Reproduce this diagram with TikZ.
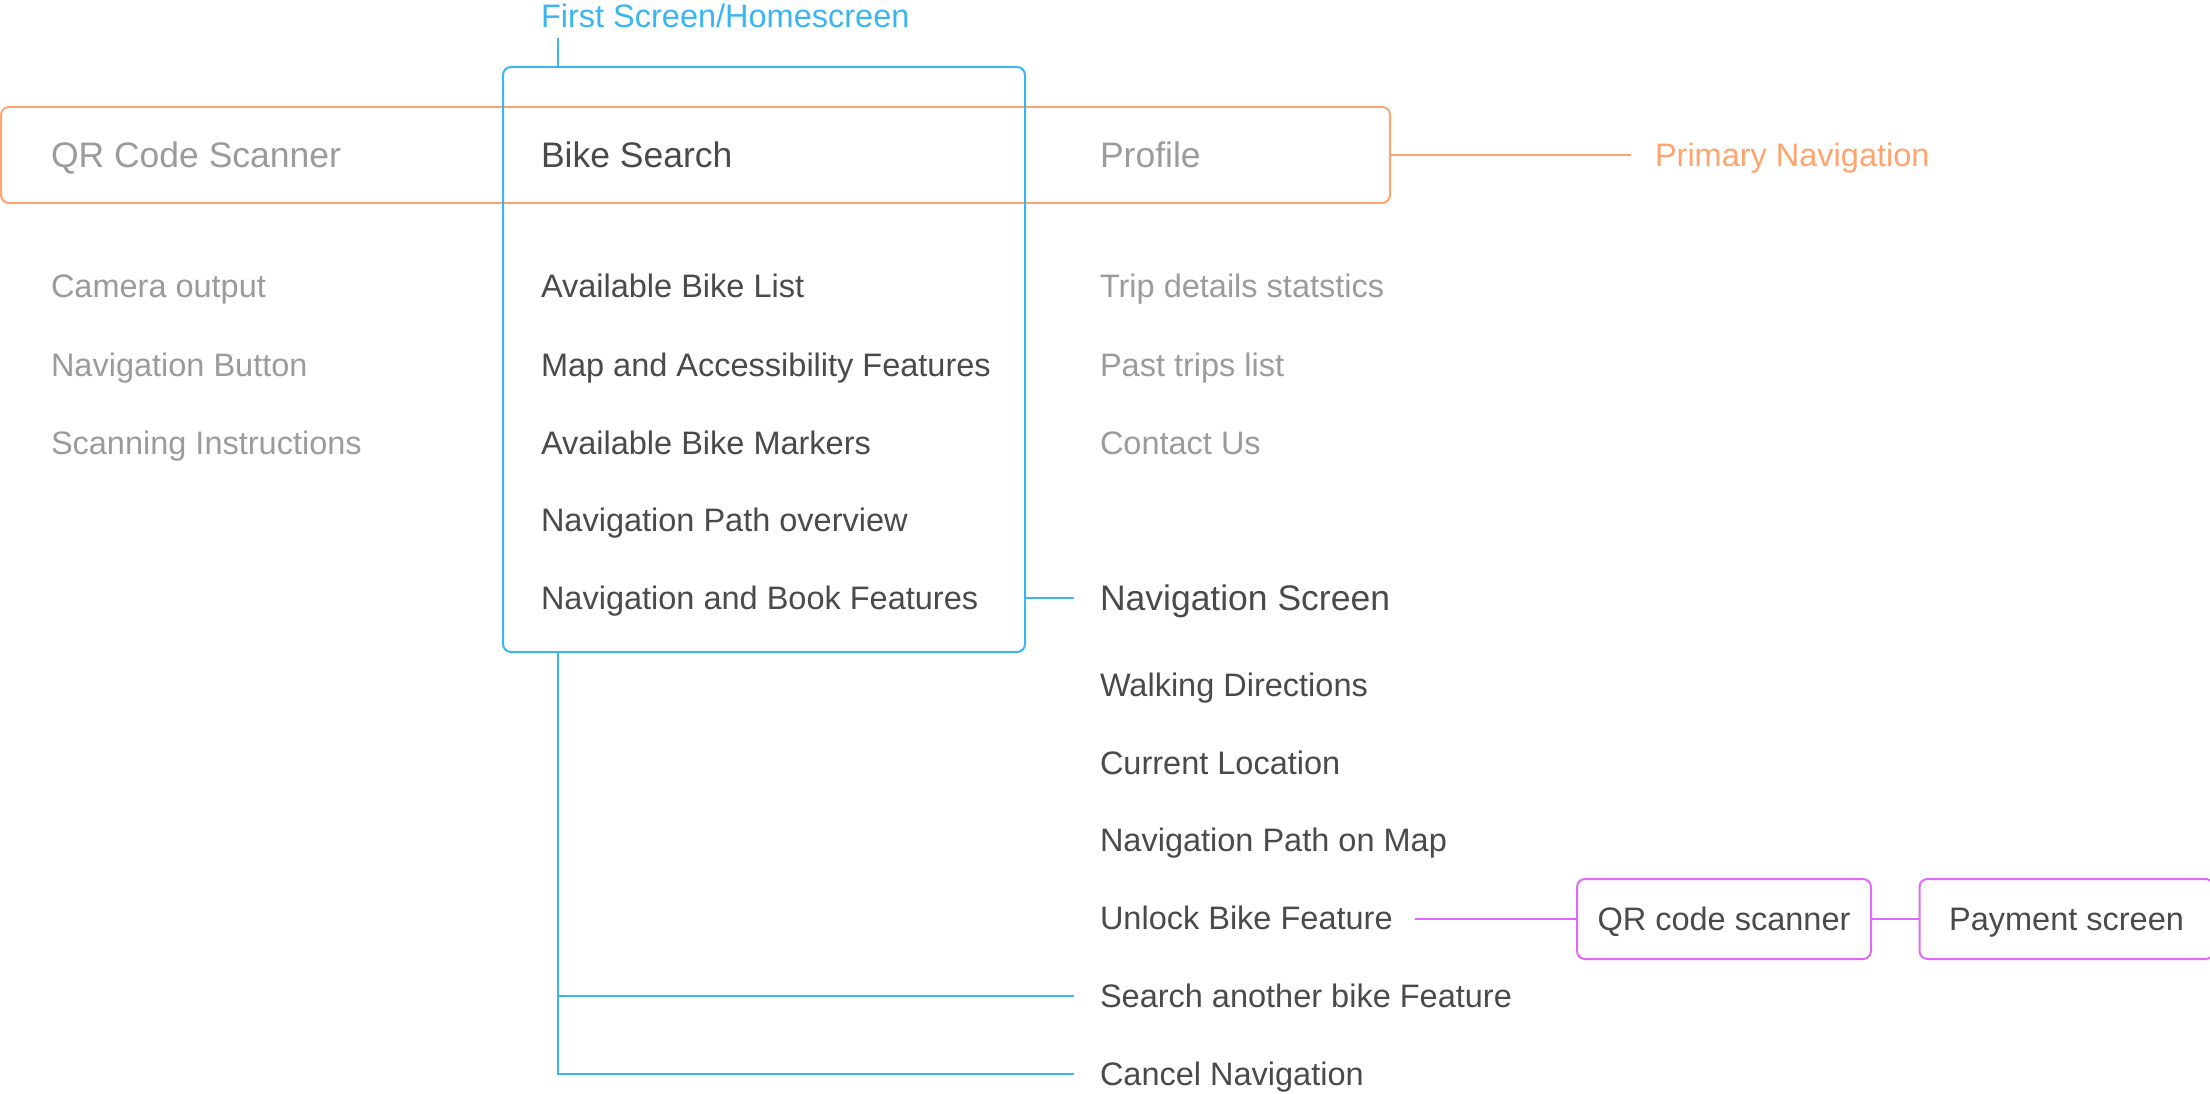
\documentclass[tikz,border=0pt]{standalone}
\usepackage{fontspec}
\setmainfont{Liberation Sans}
\definecolor{orangeC}{HTML}{FFA46F}
\definecolor{blueC}{HTML}{3BB5F2}
\definecolor{magC}{HTML}{E06AF7}
\definecolor{darkT}{HTML}{4A4A4A}
\definecolor{dimT}{HTML}{9B9B9B}
\begin{document}
\begin{tikzpicture}[x=1pt,y=-1pt,
  bigtxt/.style={font=\fontsize{35.5}{42}\selectfont, anchor=west, inner sep=0pt, outer sep=0pt, text height=25.4pt, text depth=0pt},
  smalltxt/.style={font=\fontsize{32.5}{39}\selectfont, anchor=west, inner sep=0pt, outer sep=0pt, text height=23.3pt, text depth=0pt},
  darktext/.style={text=darkT},
  dimtext/.style={text=dimT},
  frame/.style={draw, line width=2pt, rounded corners=8pt, inner sep=0pt, outer sep=0pt},
  magbox/.style={frame, draw=magC, minimum width=294pt, minimum height=80pt, font=\fontsize{32.5}{39}\selectfont, text=darkT, text height=23.3pt, text depth=0pt},
  bl/.style={draw=blueC, line width=2pt},
  orl/.style={draw=orangeC, line width=2pt},
  mgl/.style={draw=magC, line width=2pt}]
\useasboundingbox (0,0) rectangle (2210,1094);
% frames
\node[frame, draw=orangeC, minimum width=1389pt, minimum height=96pt] (primary) at (695.5,155) {};
\node[frame, draw=blueC, minimum width=522pt, minimum height=585pt] (home) at (764,359.5) {};
% titles
\node[smalltxt, text=blueC] (hometitle) at (541,16) {First Screen/Homescreen};
\node[smalltxt, text=orangeC] (pn) at (1655,155) {Primary Navigation};
% header row
\node[bigtxt, dimtext] (qr) at (51,155) {QR Code Scanner};
\node[bigtxt, darktext] (bike) at (541,155) {Bike Search};
\node[bigtxt, dimtext] (profile) at (1100,155) {Profile};
% left column
\node[smalltxt, dimtext] (cam) at (51,286) {Camera output};
\node[smalltxt, dimtext] (navbtn) at (51,365) {Navigation Button};
\node[smalltxt, dimtext] (scan) at (51,443) {Scanning Instructions};
% middle column
\node[smalltxt, darktext] (abl) at (541,286) {Available Bike List};
\node[smalltxt, darktext] (map) at (541,365) {Map and Accessibility Features};
\node[smalltxt, darktext] (abm) at (541,443) {Available Bike Markers};
\node[smalltxt, darktext] (npo) at (541,520) {Navigation Path overview};
\node[smalltxt, darktext] (nbf) at (541,598) {Navigation and Book Features};
% right column
\node[smalltxt, dimtext] (trip) at (1100,286) {Trip details statstics};
\node[smalltxt, dimtext] (past) at (1100,365) {Past trips list};
\node[smalltxt, dimtext] (contact) at (1100,443) {Contact Us};
\node[bigtxt, darktext] (navscreen) at (1100,598) {Navigation Screen};
\node[smalltxt, darktext] (walk) at (1100,685) {Walking Directions};
\node[smalltxt, darktext] (cur) at (1100,762.5) {Current Location};
\node[smalltxt, darktext] (path) at (1100,840) {Navigation Path on Map};
\node[smalltxt, darktext] (unlock) at (1100,917.5) {Unlock Bike Feature};
\node[smalltxt, darktext] (search) at (1100,996) {Search another bike Feature};
\node[smalltxt, darktext] (cancel) at (1100,1074) {Cancel Navigation};
% magenta boxes
\node[magbox] (qrbox) at (1724,919) {QR code scanner};
\node[magbox] (pay) at (2066.5,919) {Payment screen};
% connectors
\coordinate (tick) at (558,38);
\draw[bl] (tick) -- (tick |- home.north);
\draw[bl] (home.east |- nbf.west) -- ([xshift=-26pt]navscreen.west);
\draw[bl] (tick |- home.south) |- ([xshift=-26pt]cancel.west);
\draw[bl] (tick |- search.west) -- ([xshift=-26pt]search.west);
\draw[orl] (primary.east) -- ([xshift=-24pt]pn.west);
\draw[mgl] ([xshift=-162pt]qrbox.west) -- (qrbox.west);
\draw[mgl] (qrbox.east) -- (pay.west);
\end{tikzpicture}
\end{document}
